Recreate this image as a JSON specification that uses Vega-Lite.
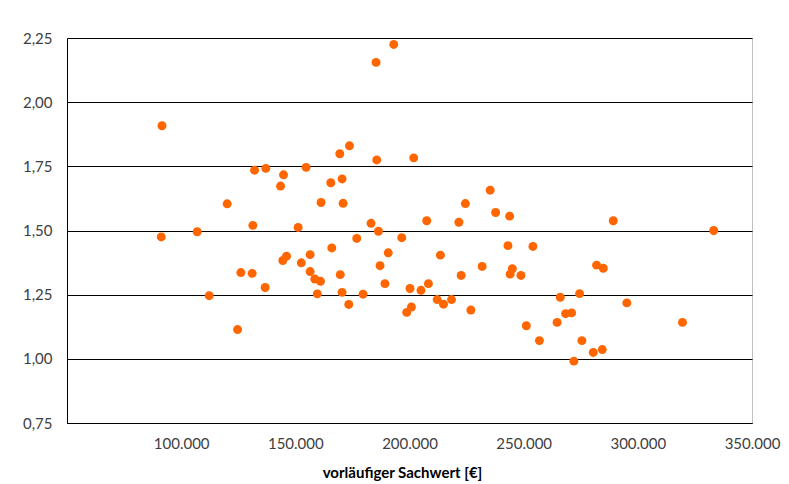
{
  "$schema": "https://vega.github.io/schema/vega-lite/v6.json",
  "width": 685,
  "height": 385,
  "autosize": {"type": "none"},
  "padding": {"left": 67, "top": 38, "right": 37, "bottom": 61},
  "background": "white",
  "config": {
    "locale": {"number": {"decimal": ",", "thousands": ".", "grouping": [3], "currency": ["", " €"]}},
    "view": {"stroke": "#c0c0c0", "strokeWidth": 1},
    "font": "Lato"
  },
  "data": {
    "values": [
      {"sachwert": 91600, "faktor": 1.908},
      {"sachwert": 185350, "faktor": 2.155},
      {"sachwert": 193100, "faktor": 2.225},
      {"sachwert": 132140, "faktor": 1.735},
      {"sachwert": 137080, "faktor": 1.742},
      {"sachwert": 144830, "faktor": 1.717},
      {"sachwert": 143520, "faktor": 1.673},
      {"sachwert": 154720, "faktor": 1.746},
      {"sachwert": 120150, "faktor": 1.604},
      {"sachwert": 169470, "faktor": 1.799},
      {"sachwert": 173710, "faktor": 1.830},
      {"sachwert": 185660, "faktor": 1.775},
      {"sachwert": 165530, "faktor": 1.686},
      {"sachwert": 170470, "faktor": 1.701},
      {"sachwert": 161280, "faktor": 1.609},
      {"sachwert": 170910, "faktor": 1.606},
      {"sachwert": 91270, "faktor": 1.475},
      {"sachwert": 107020, "faktor": 1.495},
      {"sachwert": 131390, "faktor": 1.520},
      {"sachwert": 151220, "faktor": 1.512},
      {"sachwert": 183160, "faktor": 1.528},
      {"sachwert": 186400, "faktor": 1.497},
      {"sachwert": 176900, "faktor": 1.469},
      {"sachwert": 165960, "faktor": 1.432},
      {"sachwert": 201850, "faktor": 1.783},
      {"sachwert": 235320, "faktor": 1.657},
      {"sachwert": 224470, "faktor": 1.605},
      {"sachwert": 207540, "faktor": 1.538},
      {"sachwert": 221630, "faktor": 1.532},
      {"sachwert": 237730, "faktor": 1.570},
      {"sachwert": 243860, "faktor": 1.556},
      {"sachwert": 289240, "faktor": 1.538},
      {"sachwert": 333220, "faktor": 1.500},
      {"sachwert": 196600, "faktor": 1.472},
      {"sachwert": 243110, "faktor": 1.441},
      {"sachwert": 254050, "faktor": 1.438},
      {"sachwert": 112270, "faktor": 1.246},
      {"sachwert": 124700, "faktor": 1.114},
      {"sachwert": 126140, "faktor": 1.336},
      {"sachwert": 131090, "faktor": 1.333},
      {"sachwert": 136780, "faktor": 1.278},
      {"sachwert": 144520, "faktor": 1.383},
      {"sachwert": 146140, "faktor": 1.400},
      {"sachwert": 152620, "faktor": 1.374},
      {"sachwert": 156470, "faktor": 1.406},
      {"sachwert": 156470, "faktor": 1.340},
      {"sachwert": 158530, "faktor": 1.311},
      {"sachwert": 161020, "faktor": 1.302},
      {"sachwert": 159620, "faktor": 1.253},
      {"sachwert": 169680, "faktor": 1.328},
      {"sachwert": 170470, "faktor": 1.259},
      {"sachwert": 173400, "faktor": 1.212},
      {"sachwert": 179660, "faktor": 1.252},
      {"sachwert": 187100, "faktor": 1.363},
      {"sachwert": 189240, "faktor": 1.293},
      {"sachwert": 190690, "faktor": 1.413},
      {"sachwert": 213530, "faktor": 1.404},
      {"sachwert": 200230, "faktor": 1.274},
      {"sachwert": 205040, "faktor": 1.267},
      {"sachwert": 208280, "faktor": 1.293},
      {"sachwert": 198780, "faktor": 1.181},
      {"sachwert": 200840, "faktor": 1.202},
      {"sachwert": 212130, "faktor": 1.231},
      {"sachwert": 214890, "faktor": 1.213},
      {"sachwert": 218390, "faktor": 1.231},
      {"sachwert": 222630, "faktor": 1.325},
      {"sachwert": 226880, "faktor": 1.190},
      {"sachwert": 231820, "faktor": 1.360},
      {"sachwert": 245040, "faktor": 1.351},
      {"sachwert": 244080, "faktor": 1.330},
      {"sachwert": 248800, "faktor": 1.325},
      {"sachwert": 251170, "faktor": 1.129},
      {"sachwert": 256900, "faktor": 1.071},
      {"sachwert": 266040, "faktor": 1.240},
      {"sachwert": 264640, "faktor": 1.142},
      {"sachwert": 268360, "faktor": 1.176},
      {"sachwert": 270990, "faktor": 1.179},
      {"sachwert": 274490, "faktor": 1.254},
      {"sachwert": 275500, "faktor": 1.071},
      {"sachwert": 271990, "faktor": 0.991},
      {"sachwert": 281930, "faktor": 1.365},
      {"sachwert": 284860, "faktor": 1.353},
      {"sachwert": 280480, "faktor": 1.025},
      {"sachwert": 284420, "faktor": 1.036},
      {"sachwert": 295190, "faktor": 1.218},
      {"sachwert": 319560, "faktor": 1.142}
    ]
  },
  "mark": {"type": "circle", "color": "#FF6600", "opacity": 1, "size": 80},
  "encoding": {
    "x": {
      "field": "sachwert",
      "type": "quantitative",
      "scale": {"domain": [50000, 350000], "nice": false, "zero": false},
      "axis": {
        "title": "vorläufiger Sachwert [€]",
        "values": [100000, 150000, 200000, 250000, 300000, 350000],
        "format": ",.0f",
        "grid": false,
        "ticks": false,
        "domainColor": "#000000",
        "domainWidth": 1,
        "labelFont": "Lato",
        "labelFontSize": 15,
        "labelColor": "#404040",
        "labelPadding": 13,
        "labelFlush": false,
        "labelOverlap": false,
        "titleFont": "Lato",
        "titleFontSize": 15,
        "titleFontWeight": "bold",
        "titleColor": "#000000",
        "titleX": 335,
        "titleY": 54,
        "titleBaseline": "alphabetic",
        "titleAlign": "center"
      }
    },
    "y": {
      "field": "faktor",
      "type": "quantitative",
      "scale": {"domain": [0.75, 2.25], "nice": false, "zero": false},
      "axis": {
        "title": null,
        "values": [0.75, 1, 1.25, 1.5, 1.75, 2, 2.25],
        "format": ".2f",
        "grid": true,
        "gridColor": "#000000",
        "gridWidth": 1,
        "gridOpacity": 1,
        "ticks": false,
        "domainColor": "#000000",
        "domainWidth": 1,
        "labelFont": "Lato",
        "labelFontSize": 15,
        "labelColor": "#404040",
        "labelPadding": 15,
        "labelFlush": false,
        "labelOverlap": false
      }
    }
  }
}
